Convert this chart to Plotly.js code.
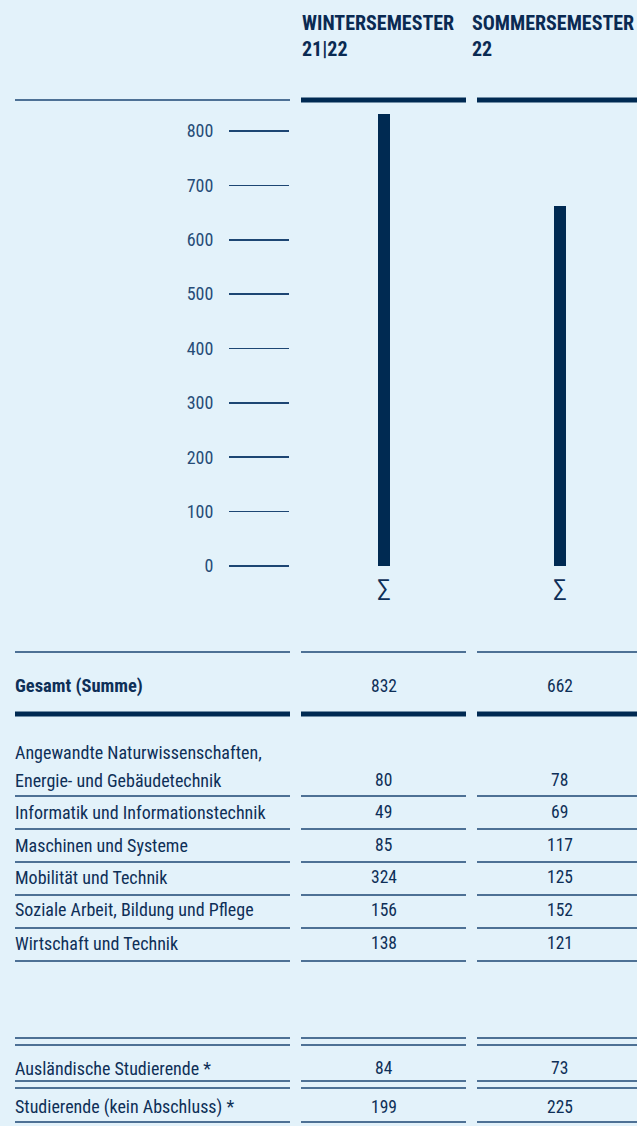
<!DOCTYPE html>
<html>
<head>
<meta charset="utf-8">
<script src="https://cdn.plot.ly/plotly-3.0.1.min.js"></script>
<style>
html,body{margin:0;padding:0;background:#e3f2fa;}
#chart{width:637px;height:1126px;}
svg text{font-stretch:75%;}
</style>
</head>
<body>
<div id="chart"></div>
<script>
// ---- data ----
var semesterNames = ['WINTERSEMESTER', 'SOMMERSEMESTER'];
var semesterYears = ['21|22', '22'];
var totals = [832, 662];
var axisTicks = [0, 100, 200, 300, 400, 500, 600, 700, 800];
var sumSymbol = ['\u2211', '\u2211'];
var totalLabel = 'Gesamt (Summe)';
var faculties = [
  ['Angewandte Naturwissenschaften,', 'Energie- und Gebäudetechnik'],
  ['Informatik und Informationstechnik'],
  ['Maschinen und Systeme'],
  ['Mobilität und Technik'],
  ['Soziale Arbeit, Bildung und Pflege'],
  ['Wirtschaft und Technik']
];
var wsFaculty = [80, 49, 85, 324, 156, 138];
var ssFaculty = [78, 69, 117, 125, 152, 121];
var extraLabels = ['Ausländische Studierende *', 'Studierende (kein Abschluss) *'];
var wsExtra = [84, 199];
var ssExtra = [73, 225];

// ---- layout helpers ----
var W = 637, H = 1126;
var FONT = 'Roboto, Liberation Sans, sans-serif';
var NAVY = '#002a52';
var TEXT = '#0e2f57';
var LINE = '#1d4673';
var FS = 18, NS = 17.5;
function fx(p){ return p / W; }
function fy(p){ return 1 - p / H; }

var colSeg = [[15, 290], [301, 466], [477, 640]];
var colCenter = [383.5, 559.5];
var zeroPx = 566, per100 = 54.375;
var yMin = -10, yMax = 900;
var yTopPx = zeroPx - per100 * yMax / 100;
var yBotPx = zeroPx - per100 * yMin / 100;
var yDomain = [fy(yBotPx), fy(yTopPx)];

var shapes = [];
function hline(y, x0, x1, w, c){
  shapes.push({type:'line', xref:'paper', yref:'paper', x0:fx(x0), x1:fx(x1), y0:fy(y), y1:fy(y),
    line:{color:c, width:w}});
}
function rowLine(y, w, c){
  colSeg.forEach(function(s){ hline(y, s[0], s[1], w, c); });
}

var annotations = [];
function txt(t, x, y, anchor, size, bold, color){
  annotations.push({text: bold ? '<b>' + t + '</b>' : t, xref:'paper', yref:'paper',
    x:fx(x), y:fy(y), xanchor:anchor, yanchor:'middle', showarrow:false, align:'left',
    font:{family:FONT, size:size, color:color || TEXT}});
}

// header (two lines per column, left-aligned block)
semesterNames.forEach(function(n, i){
  var t = n + '<br>' + semesterYears[i];
  if (i === 0) {
    txt(t, colSeg[1][0] - 1, 36, 'left', 20, true, '#0a2a52');
  } else {
    txt(t, W - 1, 36, 'right', 20, true, '#0a2a52');
  }
});
hline(100, colSeg[0][0], colSeg[0][1], 1.5, LINE);
hline(100, colSeg[1][0], colSeg[1][1], 5, NAVY);
hline(100, colSeg[2][0], colSeg[2][1], 5, NAVY);

// total row
rowLine(652, 1.5, LINE);
txt(totalLabel, 13, 686, 'left', 18.5, true);
totals.forEach(function(v, i){ txt(String(v), colCenter[i], 686, 'center', NS, false); });
rowLine(714, 5, NAVY);

// faculty rows
var rowY = [780, 812, 845, 877, 910, 943];
var lineY = [796, 829, 862, 895, 928, 961];
faculties.forEach(function(lbl, r){
  if (lbl.length === 2) {
    txt(lbl[0], 13, rowY[r] - 28, 'left', FS, false);
    txt(lbl[1], 13, rowY[r], 'left', FS, false);
  } else {
    txt(lbl[0], 13, rowY[r], 'left', FS, false);
  }
  txt(String(wsFaculty[r]), colCenter[0], rowY[r], 'center', NS, false);
  txt(String(ssFaculty[r]), colCenter[1], rowY[r], 'center', NS, false);
  rowLine(lineY[r], 1.5, LINE);
});

// extra rows
rowLine(1038, 1.5, LINE);
rowLine(1045, 1.5, LINE);
var extraY = [1068, 1107];
extraLabels.forEach(function(lbl, r){
  txt(lbl, 13, extraY[r], 'left', FS, false);
  txt(String(wsExtra[r]), colCenter[0], extraY[r], 'center', NS, false);
  txt(String(ssExtra[r]), colCenter[1], extraY[r], 'center', NS, false);
});
rowLine(1081, 1.5, LINE);
rowLine(1088, 1.5, LINE);
rowLine(1122, 1.5, LINE);

// x axis for bars: domain from col1 start to right edge
var xd0 = colSeg[1][0], xd1 = W;
var unit = colCenter[1] - colCenter[0];
var xRange = [0 - (colCenter[0] - xd0) / unit, 1 + (xd1 - colCenter[1]) / unit];

var data = [
  {type:'bar', x:[0, 1], y:totals, xaxis:'x', yaxis:'y', width:12/unit,
   marker:{color:NAVY}, hoverinfo:'skip'},
  {type:'scatter', x:[0.5], y:[0], xaxis:'x2', yaxis:'y2', mode:'markers',
   marker:{opacity:0}, hoverinfo:'skip'}
];

var layout = {
  width: W, height: H,
  margin:{l:0, r:0, t:0, b:0},
  paper_bgcolor:'#e3f2fa', plot_bgcolor:'rgba(0,0,0,0)',
  showlegend:false,
  bargap:0,
  xaxis:{domain:[fx(xd0), 1], range:xRange, tickvals:[0, 1], ticktext:sumSymbol,
    showgrid:false, zeroline:false, showline:false, ticks:'', fixedrange:true,
    tickfont:{family:FONT, size:25, color:TEXT}},
  yaxis:{domain:yDomain, range:[yMin, yMax], visible:false, fixedrange:true},
  xaxis2:{domain:[fx(229), fx(289)], range:[0, 1], anchor:'y2', visible:false, fixedrange:true},
  yaxis2:{domain:yDomain, range:[yMin, yMax], anchor:'x2', tickvals:axisTicks,
    showgrid:true, gridcolor:LINE, gridwidth:1.5, zeroline:false, showline:false,
    ticks:'outside', ticklen:11, tickcolor:'rgba(0,0,0,0)',
    tickfont:{family:FONT, size:18, color:'#264c77'}, fixedrange:true},
  shapes: shapes,
  annotations: annotations
};

Plotly.newPlot('chart', data, layout, {displayModeBar:false, staticPlot:true});
</script>
</body>
</html>
